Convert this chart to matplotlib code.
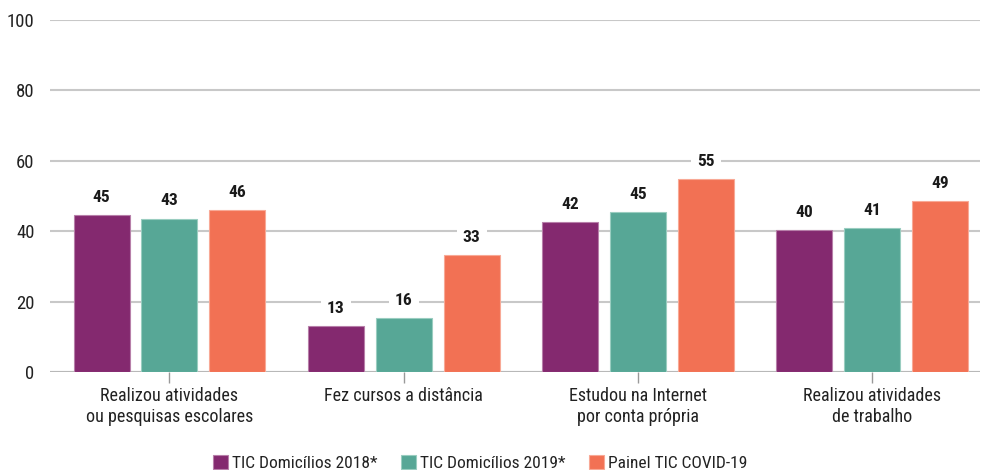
import matplotlib
matplotlib.use("Agg")
import matplotlib.pyplot as plt
import numpy as np
from matplotlib import font_manager

categories = ["Realizou atividades\nou pesquisas escolares",
              "Fez cursos a distância",
              "Estudou na Internet\npor conta própria",
              "Realizou atividades\nde trabalho"]
series_names = ["TIC Domicílios 2018*", "TIC Domicílios 2019*", "Painel TIC COVID-19"]
values_2018 = [44.6, 13.1, 42.6, 40.3]
values_2019 = [43.6, 15.3, 45.5, 40.8]
values_covid = [46.0, 33.2, 54.8, 48.6]
labels_2018 = ["45", "13", "42", "40"]
labels_2019 = ["43", "16", "45", "41"]
labels_covid = ["46", "33", "55", "49"]
yticks = [0, 20, 40, 60, 80, 100]

colors = ["#84296F", "#57A796", "#F27154"]
edge_colors = ["#B77FA9", "#9ACDC0", "#F8A996"]

flist = font_manager.fontManager.ttflist
names = {f.name for f in flist}
stretch = "normal"
fam = None
for cand in ["Roboto Condensed", "Liberation Sans Narrow", "Open Sans Condensed", "DejaVu Sans Condensed"]:
    if cand in names:
        fam = cand
        break
if fam is None:
    if any(f.name == "DejaVu Sans" and ("Condensed" in f.fname or f.stretch == "condensed") for f in flist):
        fam = "DejaVu Sans"
        stretch = "condensed"
    else:
        fam = "Roboto"
plt.rcParams["font.family"] = [fam, "DejaVu Sans"]
plt.rcParams["font.stretch"] = stretch

fig = plt.figure(figsize=(9.84, 4.70), dpi=100)
ax = fig.add_axes([0.0508, 0.2085, 0.9452, 0.749])

x = np.arange(len(categories))
width = 0.239
offset = 0.29
all_vals = [values_2018, values_2019, values_covid]
all_labels = [labels_2018, labels_2019, labels_covid]
for i, (vals, labs) in enumerate(zip(all_vals, all_labels)):
    pos = x + (i - 1) * offset
    ax.bar(pos, vals, width, color=colors[i], edgecolor=edge_colors[i], linewidth=0.8,
           label=series_names[i], zorder=3)
    for p, v, t in zip(pos, vals, labs):
        ax.text(p, v + 5.0, t, ha="center", va="center", fontsize=12.5, fontweight="bold",
                color="#1a1a1a", zorder=4,
                bbox=dict(boxstyle="square,pad=0.35", fc="white", ec="none"))

ax.set_ylim(0, 100)
ax.set_xlim(-0.51, 3.46)
ax.set_yticks(yticks)
ax.set_yticklabels([str(t) for t in yticks], fontsize=13.5, color="#222222")
ax.yaxis.grid(True, color="#c8c8c8", linewidth=1.5, zorder=0)
ax.set_axisbelow(True)
for s in ax.spines.values():
    s.set_visible(False)
ax.tick_params(axis="y", length=0, pad=11)
ax.set_xticks(x)
ax.set_xticklabels(categories, fontsize=13, color="#222222", linespacing=1.2)
ax.tick_params(axis="x", length=8, width=1, color="#999999", pad=3)
ax.axhline(0, color="#b8b8b8", linewidth=1.5, zorder=2)

handles, labels = ax.get_legend_handles_labels()
fig.legend(handles, labels, loc="lower center", bbox_to_anchor=(0.488, -0.035), ncol=3,
           frameon=False, fontsize=12.5, handlelength=0.85, handleheight=0.85,
           handletextpad=0.2, columnspacing=1.4, labelcolor="#222222")

fig.savefig("out.png", dpi=100)
